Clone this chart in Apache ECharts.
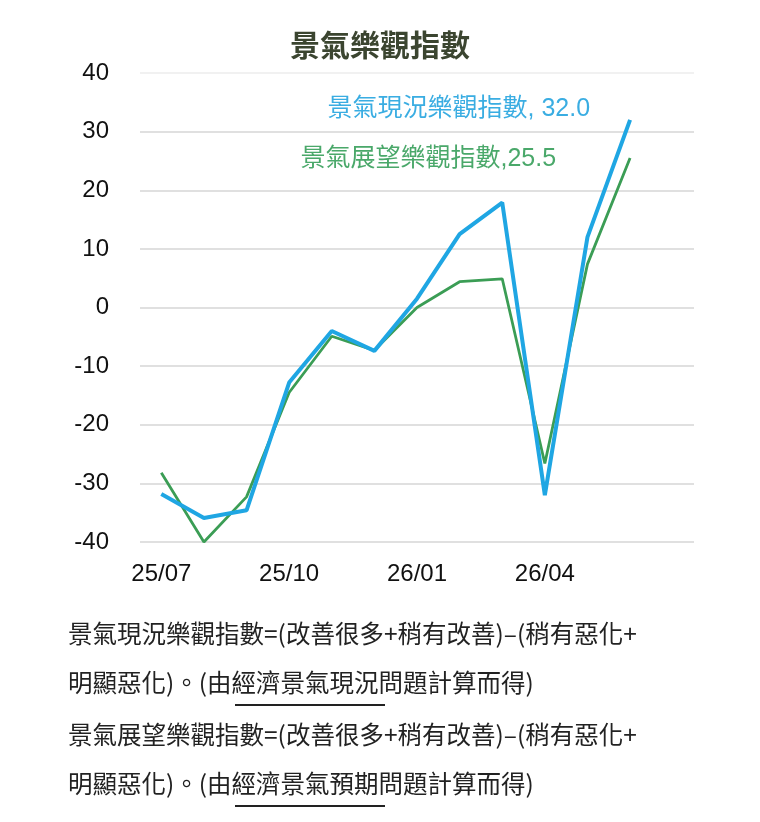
<!DOCTYPE html>
<html>
<head>
<meta charset="utf-8">
<script src="https://cdn.jsdelivr.net/npm/echarts@6/dist/echarts.min.js"></script>
<style>
  html, body { margin: 0; padding: 0; background: #fff; }
  #chart { width: 760px; height: 822px; }
</style>
</head>
<body>
<div id="chart"></div>
<script>
var months = ['25/07','25/08','25/09','25/10','25/11','25/12','26/01','26/02','26/03','26/04','26/05','26/06'];
var nowName = '景氣現況樂觀指數';
var nowValues = [-31.8, -35.9, -34.6, -12.8, -4.0, -7.4, 1.5, 12.5, 17.9, -32.0, 12.0, 32.0];
var outlookName = '景氣展望樂觀指數';
var outlookValues = [-28.2, -40.0, -32.3, -14.5, -4.9, -7.3, 0.0, 4.4, 4.9, -26.6, 7.4, 25.5];
var yTicks = { min: -40, max: 40, interval: 10 };
var notes = [
  '景氣現況樂觀指數=(改善很多+稍有改善)–(稍有惡化+',
  '明顯惡化)。(由經濟景氣現況問題計算而得)',
  '景氣展望樂觀指數=(改善很多+稍有改善)–(稍有惡化+',
  '明顯惡化)。(由經濟景氣預期問題計算而得)'
];

var blue = '#1fa6e3';
var green = '#3b9d55';
var cjk = '"Liberation Sans", "Noto Sans CJK TC", sans-serif';

// one spare slot after the last month so the grid runs on past it
var xData = months.concat(['']);

function lastLabel(values, lab) {
  return values.map(function(v, i) {
    if (i !== values.length - 1) return v;
    return { value: v, label: lab };
  });
}

// gridlines go from -40 upward, the top one is paler
var gridColors = [];
for (var g = yTicks.min; g <= yTicks.max; g += yTicks.interval) {
  gridColors.push(g === yTicks.max ? '#ececec' : '#d6d6d6');
}

var chart = echarts.init(document.getElementById('chart'));

var noteY = [636, 685, 737, 786];
var graphics = notes.map(function(t, i) {
  return {
    type: 'text', left: 68, top: noteY[i] - 15,
    style: { text: t, fill: '#222', font: '24.5px "Noto Sans CJK TC", sans-serif' }
  };
});
graphics.push({ type: 'line', shape: { x1: 235, y1: 705, x2: 385, y2: 705 }, style: { stroke: '#222', lineWidth: 2 } });
graphics.push({ type: 'line', shape: { x1: 235, y1: 806, x2: 385, y2: 806 }, style: { stroke: '#222', lineWidth: 2 } });

var option = {
  backgroundColor: '#fff',
  animation: false,
  title: {
    text: '景氣樂觀指數',
    left: 'center',
    top: 25,
    textStyle: { fontSize: 30, fontWeight: 'bold', color: '#3b4530', fontFamily: '"Noto Sans CJK TC", sans-serif' }
  },
  grid: { left: 140, right: 66, top: 73, bottom: 280 },
  xAxis: {
    type: 'category',
    data: xData,
    boundaryGap: true,
    axisLine: { show: false },
    axisTick: { show: false },
    axisLabel: {
      interval: function(i, v) { return i % 3 === 0 && v !== ''; },
      fontSize: 24, color: '#111', margin: 20, fontFamily: cjk
    }
  },
  yAxis: {
    type: 'value',
    min: yTicks.min, max: yTicks.max, interval: yTicks.interval,
    axisLine: { show: false },
    axisTick: { show: false },
    axisLabel: { fontSize: 24, color: '#111', margin: 31, fontFamily: cjk },
    splitLine: { lineStyle: { color: gridColors, width: 1.5 } }
  },
  series: [
    {
      name: outlookName,
      type: 'line',
      symbol: 'circle',
      symbolSize: 0,
      showSymbol: true,
      z: 2,
      lineStyle: { color: green, width: 2.8 },
      itemStyle: { color: green },
      data: lastLabel(outlookValues, {
        show: true, position: 'left', offset: [-69, 1],
        fontSize: 25, color: '#4aa86a', fontFamily: cjk,
        formatter: function(p) { return p.seriesName + ',' + p.value.toFixed(1); }
      })
    },
    {
      name: nowName,
      type: 'line',
      symbol: 'circle',
      symbolSize: 0,
      showSymbol: true,
      z: 3,
      lineStyle: { color: blue, width: 4 },
      itemStyle: { color: blue },
      data: lastLabel(nowValues, {
        show: true, position: 'left', offset: [-35, -11],
        fontSize: 25, color: '#3aade2', fontFamily: cjk,
        formatter: function(p) { return p.seriesName + ', ' + p.value.toFixed(1); }
      })
    }
  ],
  graphic: graphics
};

chart.setOption(option);
</script>
</body>
</html>
